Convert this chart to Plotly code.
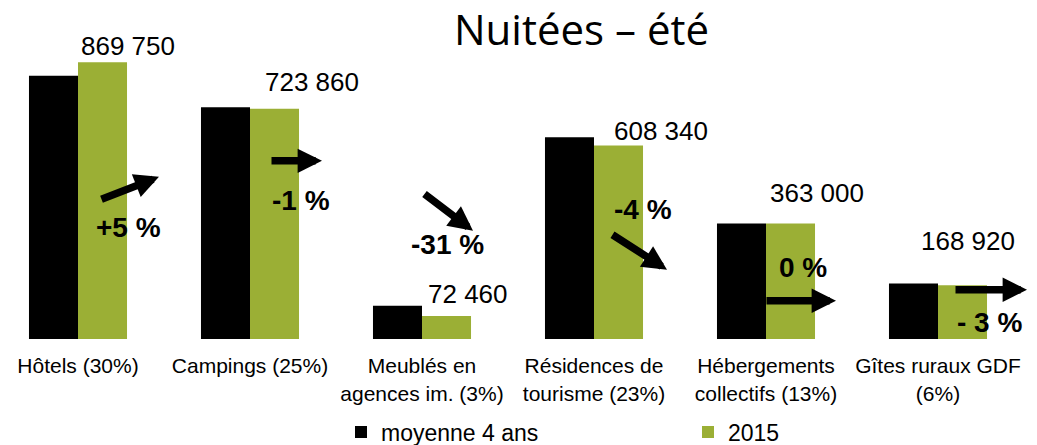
import plotly.graph_objects as go

categories = ["Hôtels (30%)", "Campings (25%)", "Meublés en<br>agences im. (3%)",
              "Résidences de<br>tourisme (23%)", "Hébergements<br>collectifs (13%)",
              "Gîtes ruraux GDF<br>(6%)"]
moyenne_4_ans = [827700, 728500, 104600, 634300, 363000, 174600]
nuitees_2015 = [869750, 723860, 72460, 608340, 363000, 168920]
value_labels = ["869 750", "723 860", "72 460", "608 340", "363 000", "168 920"]
evolution_labels = ["+5 %", "-1 %", "-31 %", "-4 %", "0 %", "- 3 %"]

# the page body has an 8px margin: work in reference pixels and subtract it
OFF = 8
W, H = 1037 - OFF, 445 - OFF
BASE = 339.3 - OFF          # bar baseline, figure pixels
T = 20
B = H - BASE
PLOT_H = BASE - T
UNIT = 172.0
X0 = -(78 - OFF) / UNIT
YMAX = PLOT_H * 3140

BLACK = "#000000"
GREEN = "#9BAF35"
FONT = "Arial, Liberation Sans, sans-serif"

idx = list(range(len(categories)))

fig = go.Figure()
fig.add_trace(go.Bar(x=idx, y=moyenne_4_ans, name="moyenne 4 ans",
                     marker=dict(color=BLACK, line=dict(width=0))))
fig.add_trace(go.Bar(x=idx, y=nuitees_2015, name="2015",
                     marker=dict(color=GREEN, line=dict(width=0))))


def ref_to_paper(rx, ry):
    px, py = rx - OFF, ry - OFF
    return px / W, (BASE - py) / PLOT_H


annotations = []

# value labels above green bars (pixel offsets from category centre)
label_dx = [50, 62, 46, 67, 51, 30]
label_dy = [-1, 9.5, 4.5, -2.5, 13.5, 27.5]
for i, (v, t) in enumerate(zip(nuitees_2015, value_labels)):
    annotations.append(dict(x=i, y=v, xref="x", yref="y", text=t, showarrow=False,
                            xanchor="center", yanchor="bottom",
                            xshift=label_dx[i], yshift=label_dy[i],
                            font=dict(family=FONT, size=26, color="#000000")))

# evolution percentages (reference pixel centres)
pct_pos = [(128, 228), (301, 201), (447, 245), (643, 210), (803, 268), (989, 323)]
for (rx, ry), t in zip(pct_pos, evolution_labels):
    xp, yp = ref_to_paper(rx, ry)
    annotations.append(dict(x=xp, y=yp, xref="paper", yref="paper", text="<b>%s</b>" % t,
                            showarrow=False, xanchor="center", yanchor="middle",
                            font=dict(family=FONT, size=28, color="#000000")))

# trend arrows (tail -> head, reference pixels)
arrows = [((100, 200), (159, 177)), ((270, 161), (322, 161)), ((423, 193), (473, 231)),
          ((611, 234), (667, 270)), ((765, 301), (836, 301)), ((954, 290), (1027, 290))]
for (tx, ty), (hx, hy) in arrows:
    xp, yp = ref_to_paper(hx, hy)
    annotations.append(dict(x=xp, y=yp, xref="paper", yref="paper", text="",
                            showarrow=True, arrowhead=2, arrowsize=0.65, arrowwidth=7.5,
                            arrowcolor="#000000", ax=tx - hx, ay=ty - hy,
                            standoff=0, startstandoff=0))

fig.update_layout(
    width=W, height=H,
    margin=dict(l=0, r=0, t=T, b=B),
    paper_bgcolor="white", plot_bgcolor="white",
    barmode="group", bargap=0.43, bargroupgap=0,
    title=dict(text="Nuitées – été", x=(581.5 - OFF) / W, xanchor="center",
               y=1 - (30 - OFF) / H, yanchor="middle",
               font=dict(family="Open Sans, sans-serif", size=42, color="#000000")),
    xaxis=dict(range=[X0, X0 + W / UNIT], tickmode="array", tickvals=idx,
               ticktext=categories, showgrid=False, zeroline=False, showline=False,
               ticks="outside", ticklen=8, tickcolor="rgba(0,0,0,0)",
               tickfont=dict(family=FONT, size=21, color="#000000")),
    yaxis=dict(range=[0, YMAX], visible=False, showgrid=False, zeroline=False),
    legend=dict(orientation="h", xref="container", yref="container",
                x=(341 - OFF) / W, xanchor="left",
                y=1 - (432 - OFF) / H, yanchor="middle",
                font=dict(family=FONT, size=23, color="#000000"),
                entrywidth=302, entrywidthmode="pixels",
                bgcolor="rgba(0,0,0,0)"),
    annotations=annotations,
)

fig.write_html("out.html")
